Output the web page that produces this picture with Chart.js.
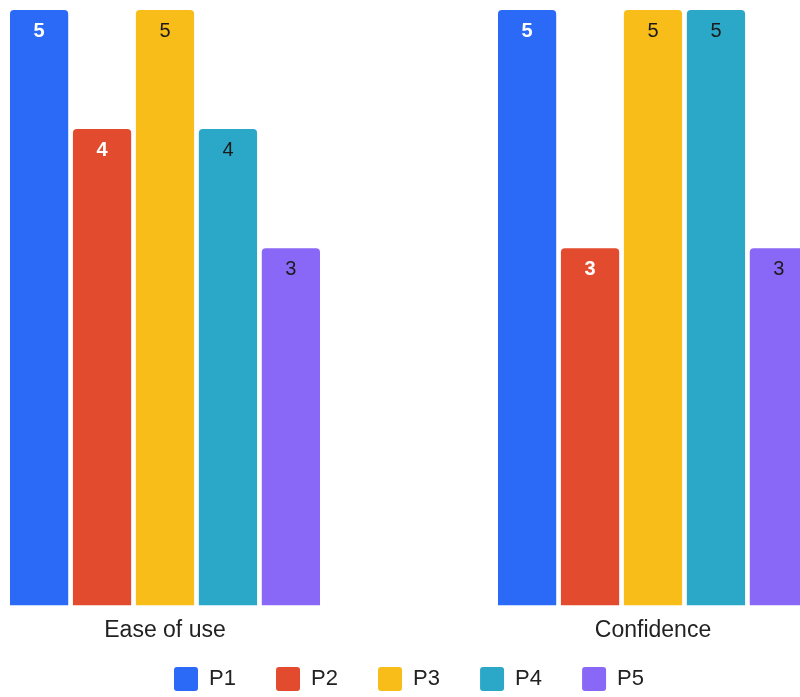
<!DOCTYPE html>
<html>
<head>
<meta charset="utf-8">
<script src="https://cdn.jsdelivr.net/npm/chart.js@4.4.1/dist/chart.umd.min.js"></script>
<style>
  html, body { margin: 0; padding: 0; background: #fff; overflow: hidden; }
  #wrap { position: absolute; left: -79px; top: 0; width: 976px; height: 697px; }
</style>
</head>
<body>
<div id="wrap"><canvas id="chart"></canvas></div>
<script>
// du lieu doc tu hinh
const categories = ["Ease of use", "Confidence"];
const seriesNames = ["P1", "P2", "P3", "P4", "P5"];
const p1 = [5, 5];
const p2 = [4, 3];
const p3 = [5, 5];
const p4 = [4, 5];
const p5 = [3, 3];

const colors = ["#2a6af6", "#e34b2e", "#f8bd18", "#2ba8c7", "#8a68f7"];
const labelColors = ["#ffffff", "#ffffff", "#1b1b1b", "#1b1b1b", "#1b1b1b"];

const FONT = "'Liberation Sans', Arial, sans-serif";

// ve so len dau cot
const barLabels = {
  id: "barLabels",
  afterDatasetsDraw(chart) {
    const ctx = chart.ctx;
    ctx.save();
    ctx.textAlign = "center";
    ctx.textBaseline = "middle";
    chart.data.datasets.forEach((ds, i) => {
      const meta = chart.getDatasetMeta(i);
      const light = labelColors[i] === "#ffffff";
      ctx.font = (light ? "bold " : "") + "20px " + FONT;
      ctx.fillStyle = labelColors[i];
      meta.data.forEach((bar, j) => {
        ctx.fillText(String(ds.data[j]), bar.x, bar.y + 21);
      });
    });
    ctx.restore();
  },
};

const seriesData = [p1, p2, p3, p4, p5];

new Chart(document.getElementById("chart"), {
  type: "bar",
  data: {
    labels: categories,
    datasets: seriesNames.map((name, i) => ({
      label: name,
      data: seriesData[i],
      backgroundColor: colors[i],
      borderWidth: 0,
      borderRadius: 4,
      categoryPercentage: 0.645,
      barPercentage: 0.925,
    })),
  },
  options: {
    responsive: true,
    maintainAspectRatio: false,
    animation: false,
    layout: { padding: { top: 10, bottom: -4, left: 0, right: 0 } },
    scales: {
      y: { display: false, min: 0, max: 5 },
      x: {
        grid: { display: false, drawTicks: false },
        border: { display: false },
        ticks: {
          color: "#222222",
          padding: 11,
          font: { family: FONT, size: 23 },
        },
      },
    },
    plugins: {
      tooltip: { enabled: false },
      legend: {
        position: "bottom",
        labels: {
          boxWidth: 24,
          boxHeight: 24,
          padding: 12,
          color: "#222222",
          useBorderRadius: true,
          borderRadius: 3,
          font: { family: FONT, size: 22 },
          // them khoang trang de cac muc cach xa nhau hon (tru muc cuoi)
          generateLabels(chart) {
            const items = Chart.defaults.plugins.legend.labels.generateLabels(chart);
            return items.map((item, i) =>
              i < items.length - 1 ? { ...item, text: item.text + "\u2003 " } : item,
            );
          },
        },
      },
    },
  },
  plugins: [barLabels],
});
</script>
</body>
</html>
